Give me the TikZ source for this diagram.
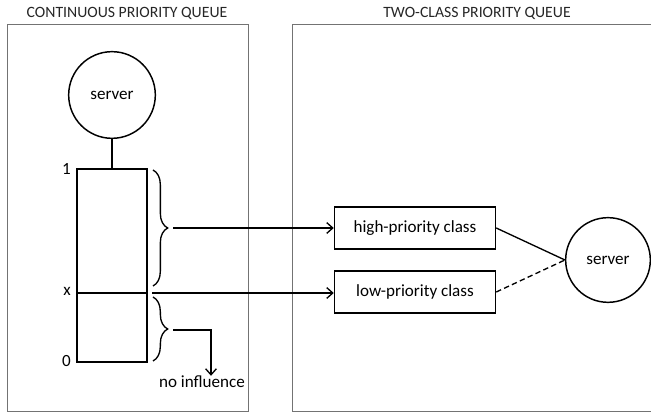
\documentclass[tikz,border=0pt]{standalone}
\usepackage{fontspec}
\setmainfont{Carlito}
\usetikzlibrary{decorations.pathreplacing,arrows.meta}
\begin{document}
\begin{tikzpicture}[x=0.75pt,y=-0.75pt,
  font=\fontsize{12.8}{14}\selectfont,
  panel/.style={draw=black!55, line width=0.6pt},
  title/.style={text=black!85, inner sep=0pt, font=\fontsize{11.8}{14}\selectfont},
  srv/.style={circle, draw, line width=1.1pt, inner sep=0pt},
  cls/.style={rectangle, draw, line width=1.1pt, inner sep=0pt, minimum width=120.75pt, minimum height=31.5pt},
  conn/.style={line width=1pt},
  arr/.style={line width=1pt, -{Straight Barb[length=4.5pt,width=8pt,line width=1pt]}},
  brc/.style={line width=1pt, decorate, decoration={brace, amplitude=11pt, aspect=0.5}},
  lbl/.style={inner sep=0pt, anchor=east}]
\clip (0,0) rectangle (651,416);
\useasboundingbox (0,0) rectangle (651,416);
% panels
\draw[panel] (7,24) rectangle (248,411);
\draw[panel] (292,24) rectangle (700,411);
\node[title] (t1) at (127,13) {CONTINUOUS PRIORITY QUEUE};
\node[title] (t2) at (477,13) {TWO-CLASS PRIORITY QUEUE};
% left side
\node[srv, minimum size=65pt] (s1) at (112,95) {server};
\node[rectangle, draw, line width=1.2pt, inner sep=0pt, minimum width=52.5pt, minimum height=144.5pt] (q) at (112,265.5) {};
\draw[conn] (s1.south) -- (q.north);
\coordinate (xl) at (q.west |- 0,293);
\coordinate (xr) at (q.east |- 0,293);
\draw[line width=0.8pt] (xl) -- (xr);
\node[lbl] (l1) at (71,169) {1};
\node[lbl] (lx) at (71,291) {x};
\node[lbl] (l0) at (71,361) {0};
% braces
\coordinate (b1a) at (153,170);
\coordinate (b1b) at (153,286);
\coordinate (b2a) at (153,297);
\coordinate (b2b) at (153,361);
\draw[brc] (b1a) -- (b1b);
\draw[brc] (b2a) -- (b2b);
\coordinate (tip1) at (173,228);
\coordinate (tip2) at (173,330);
\coordinate (xa) at (152,293);
% right side
\node[cls] (hi) at (415,228) {high-priority class};
\node[cls] (lo) at (415,292) {low-priority class};
\node[srv, minimum size=63.5pt] (s2) at (608,260) {server};
\draw[arr] (tip1) -- (hi.west);
\draw[arr] (xa) -- (xa -| lo.west);
\node[inner sep=0pt] (ni) at (202,382) {no influence};
\coordinate (corner) at (211,330);
\draw[arr] (tip2) -- (corner) -- (ni.north -| corner);
\draw[conn] (hi.east) -- (s2.west);
\draw[conn, dash pattern=on 4pt off 2.5pt] (lo.east) -- (s2.west);
\end{tikzpicture}
\end{document}
